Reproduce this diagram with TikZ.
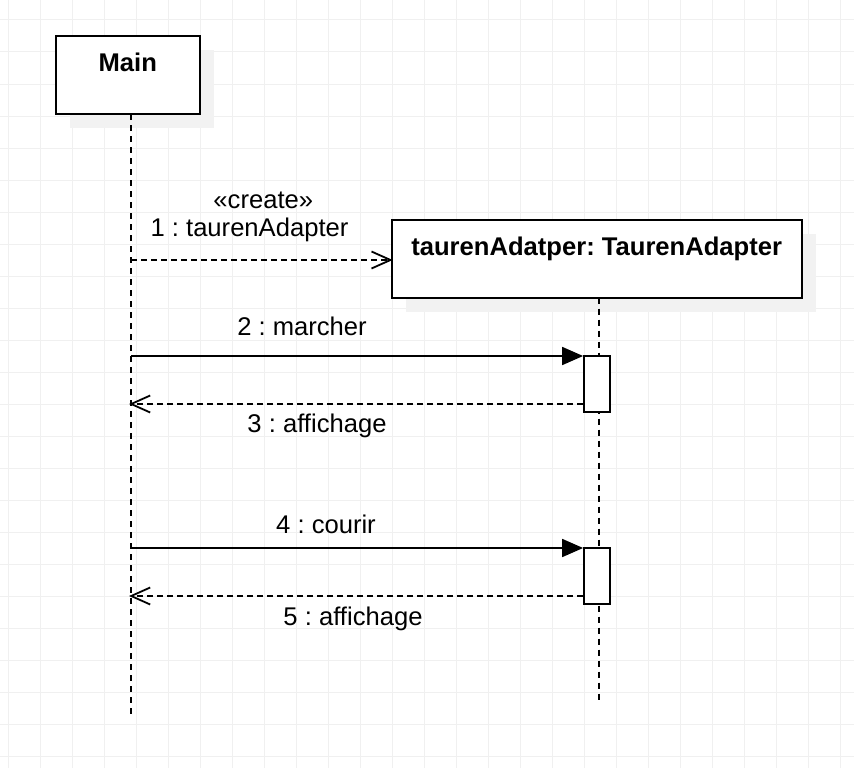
\documentclass[tikz,border=0pt]{standalone}
\usepackage{fontspec}
\setmainfont{Liberation Sans}
\usetikzlibrary{arrows.meta}
\frenchspacing
\definecolor{gridc}{HTML}{F0F0F0}
\definecolor{shadowc}{HTML}{F2F2F2}
\tikzset{
  objbox/.style={draw=black, line width=2pt, fill=white, rectangle, inner sep=0pt},
  shadowbox/.style={fill=shadowc, draw=none, rectangle, inner sep=0pt},
  actbox/.style={draw=black, line width=1.8pt, fill=white, rectangle, inner sep=0pt, minimum width=26pt},
  lifeline/.style={draw=black, line width=1.8pt, dash pattern=on 6pt off 5pt},
  callmsg/.style={draw=black, line width=1.8pt, -{Triangle[length=21pt,width=18pt]}},
  retmsg/.style={draw=black, line width=1.7pt, dash pattern=on 6pt off 4pt, shorten >=-2pt, -{Straight Barb[length=19pt,width=17pt,line width=1.8pt]}},
  lbl/.style={font=\fontsize{25.6}{30}\selectfont\frenchspacing, anchor=base, inner sep=0pt},
  ttl/.style={font=\fontsize{25.6}{30}\selectfont\bfseries\frenchspacing, anchor=base, inner sep=0pt}
}
\begin{document}
\begin{tikzpicture}[x=1pt,y=-1pt]
\useasboundingbox (0,0) rectangle (854,768);
\fill[white] (0,0) rectangle (854,768);
% grid
\foreach \gx in {0,...,26} {\draw[gridc, line width=1pt] ({8.3+32*\gx},0) -- ({8.3+32*\gx},768);}
\foreach \gy in {0,...,23} {\draw[gridc, line width=1pt] (0,{20+32*\gy}) -- (854,{20+32*\gy});}
% shadows
\node[shadowbox, minimum width=144.3pt, minimum height=78.3pt] (mainsh) at (141.85,88.85) {};
\node[shadowbox, minimum width=410.6pt, minimum height=77.7pt] (taush) at (611,272.85) {};
% lifelines
\coordinate (mtop) at (131,114);
\coordinate (mbot) at (131,717);
\coordinate (ttop) at (599,297.7);
\coordinate (tbot) at (599,701);
\draw[lifeline] (mtop) -- (mbot);
\draw[lifeline] (ttop) -- (tbot);
% object boxes
\node[objbox, minimum width=144.3pt, minimum height=78.3pt] (main) at (127.85,74.85) {};
\node[ttl] (mainT) at (127.8,71) {Main};
\node[objbox, minimum width=410.6pt, minimum height=77.7pt] (tauren) at (597,258.85) {};
\node[ttl] (taurenT) at (596.7,255) {taurenAdatper: TaurenAdapter};
% activation boxes
\node[actbox, minimum height=56pt] (act1) at (597,383.7) {};
\node[actbox, minimum height=56.3pt] (act2) at (597,575.85) {};
% message anchor points on Main lifeline
\coordinate (m1) at (131,260);
\coordinate (m2) at (131,356);
\coordinate (m3) at (131,404);
\coordinate (m4) at (131,548);
\coordinate (m5) at (131,596);
% messages
\draw[retmsg] (m1) -- (tauren.west |- m1);
\draw[callmsg] (m2) -- (act1.west |- m2);
\draw[retmsg] (act1.west |- m3) -- (m3);
\draw[callmsg] (m4) -- (act2.west |- m4);
\draw[retmsg] (act2.west |- m5) -- (m5);
% labels
\node[lbl] (l1a) at (263.3,208.5) {«create»};
\node[lbl] (l1b) at (249.5,236.5) {1 : taurenAdapter};
\node[lbl] (l2) at (302,335.5) {2 : marcher};
\node[lbl] (l3) at (317,432.5) {3 : affichage};
\node[lbl] (l4) at (326,533.5) {4 : courir};
\node[lbl] (l5) at (353,625.5) {5 : affichage};
\end{tikzpicture}
\end{document}
